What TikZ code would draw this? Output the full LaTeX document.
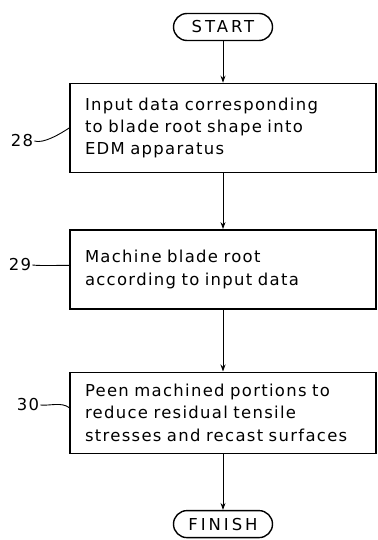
\documentclass[tikz,border=0pt]{standalone}
\usepackage{fontspec}
\setmainfont[LetterSpace=8]{DejaVu Sans}
\usetikzlibrary{positioning,arrows.meta}

\tikzset{
  stepbox/.style={draw, line width=1.4bp, text width=276bp, inner xsep=15bp,
    align=left, font=\fontsize{16.5}{22.5}\selectfont},
  termbox/.style={draw, line width=1.4bp, rounded corners=13.5bp,
    minimum width=99bp, minimum height=27bp,
    font=\fontsize{16.5}{20}\selectfont\addfontfeature{LetterSpace=18}},
  flow/.style={-{Stealth[length=7bp,width=5bp]}, line width=1bp},
  refnum/.style={font=\fontsize{16.5}{20}\selectfont, inner sep=1bp},
  leader/.style={line width=0.9bp}
}

\begin{document}
\begin{tikzpicture}[x=1bp,y=-1bp]
      \useasboundingbox (0,0) rectangle (377,540);

      \node[termbox] (start) at (223,27) {START};
      \node[stepbox, minimum height=89bp, below=41.5bp of start] (28)
        {Input data corresponding\\to blade root shape into\\EDM apparatus};
      \node[stepbox, minimum height=79bp, below=56bp of 28] (29)
        {Machine blade root\\according to input data};
      \node[stepbox, minimum height=81bp, below=62bp of 29] (30)
        {Peen machined portions to\\reduce residual tensile\\stresses and recast surfaces};
      \node[termbox, below=56bp of 30] (finish) {FINISH};

      % reference numerals
      \node[refnum] (n28) at (22,141) {28};
      \node[refnum] (n29) at (20,265) {29};
      \node[refnum] (n30) at (28,405) {30};

      \draw[flow] (start) -- (28);
      \draw[flow] (28) -- (29);
      \draw[flow] (29) -- (30);
      \draw[flow] (30) -- (finish);

      \draw[leader] (n28.east) .. controls +(9,3) and +(-9,6) .. (28.west);
      \draw[leader] (n29.east) .. controls +(10,1) and +(-12,0) .. ([yshift=4bp]29.west);
      \draw[leader] (n30.east) .. controls +(10,1) and +(-8,-6) .. ([yshift=5bp]30.west);
    \end{tikzpicture}
\end{document}
